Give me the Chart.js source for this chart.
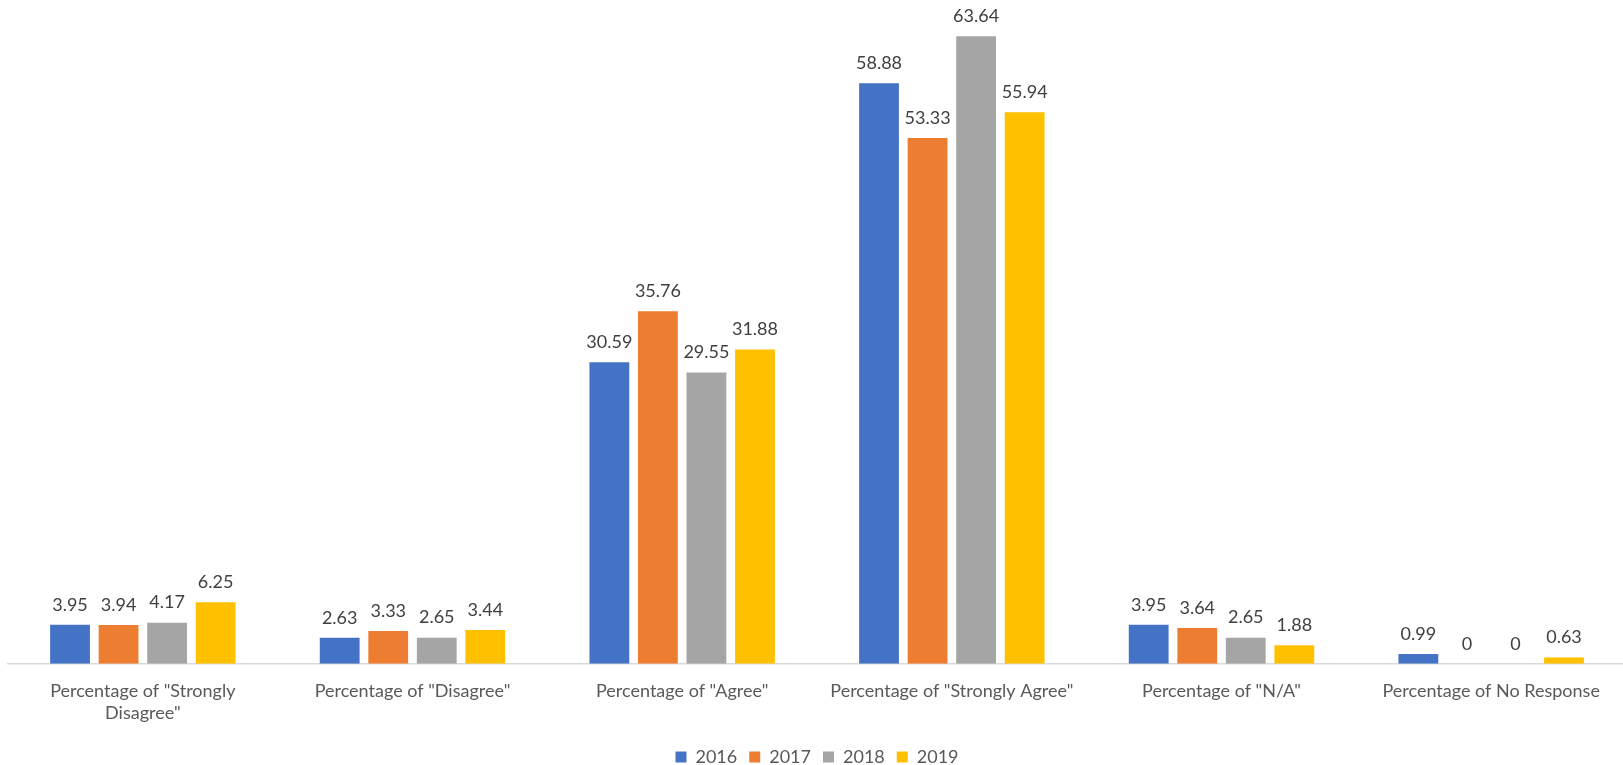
<!DOCTYPE html>
<html>
<head>
<meta charset="utf-8">
<script src="https://cdn.jsdelivr.net/npm/chart.js@4"></script>
<style>
    html, body { margin: 0; padding: 0; background: #ffffff; overflow: hidden; }
    #grafico-container { width: 1626px; height: 765px; position: relative; }
</style>
</head>
<body>
<div id="grafico-container">
    <canvas id="myChart"></canvas>
</div>
<script>
const categorias = [
    ['Percentage of "Strongly', 'Disagree"'],
    'Percentage of "Disagree"',
    'Percentage of "Agree"',
    'Percentage of "Strongly Agree"',
    'Percentage of "N/A"',
    'Percentage of No Response'
];

const anos = ["2016", "2017", "2018", "2019"];

const valores2016 = [3.95, 2.63, 30.59, 58.88, 3.95, 0.99];
const valores2017 = [3.94, 3.33, 35.76, 53.33, 3.64, 0];
const valores2018 = [4.17, 2.65, 29.55, 63.64, 2.65, 0];
const valores2019 = [6.25, 3.44, 31.88, 55.94, 1.88, 0.63];

const cores = ['#4472C4', '#ED7D31', '#A5A5A5', '#FFC000'];

const fonte = "Lato, 'Open Sans', sans-serif";
const corTexto = '#595959';

// escreve o valor em cima de cada barra
const rotulosDosValores = {
    id: 'rotulosDosValores',
    afterDatasetsDraw(chart) {
        const c = chart.ctx;
        c.save();
        c.font = "18px " + fonte;
        c.fillStyle = '#404040';
        c.textAlign = 'center';
        c.textBaseline = 'bottom';
        chart.data.datasets.forEach((dataset, i) => {
            const meta = chart.getDatasetMeta(i);
            meta.data.forEach((barra, j) => {
                c.fillText(String(dataset.data[j]), barra.x, barra.y - 11);
            });
        });
        c.restore();
    }
};

window.onload = aoCarregarPagina;

function aoCarregarPagina() {
    const ctx = document.querySelector("#myChart");
    criarGrafico(ctx);
}

function criarGrafico(ctx) {
    const series = [valores2016, valores2017, valores2018, valores2019];

    return new Chart(ctx, {
        type: 'bar',
        data: {
            labels: categorias,
            datasets: series.map((valores, i) => ({
                label: anos[i],
                data: valores,
                backgroundColor: cores[i],
                borderWidth: 0,
                categoryPercentage: 0.72,
                barPercentage: 0.82
            }))
        },
        options: {
            responsive: true,
            maintainAspectRatio: false,
            animation: false,
            layout: {
                padding: { left: 8, right: 0, top: 13, bottom: -11 }
            },
            scales: {
                x: {
                    grid: { display: false },
                    border: { display: true, color: '#D9D9D9', width: 1.5 },
                    ticks: {
                        color: corTexto,
                        font: { family: fonte, size: 18 },
                        padding: 9,
                        maxRotation: 0,
                        autoSkip: false
                    },
                    afterFit(escala) {
                        escala.height += 3;
                    }
                },
                y: {
                    display: false,
                    min: 0,
                    max: 66
                }
            },
            plugins: {
                legend: {
                    position: 'bottom',
                    labels: {
                        color: corTexto,
                        font: { family: fonte, size: 18 },
                        boxWidth: 11,
                        boxHeight: 11,
                        padding: 12
                    }
                },
                tooltip: { enabled: false }
            }
        },
        plugins: [rotulosDosValores]
    });
}
</script>
</body>
</html>
